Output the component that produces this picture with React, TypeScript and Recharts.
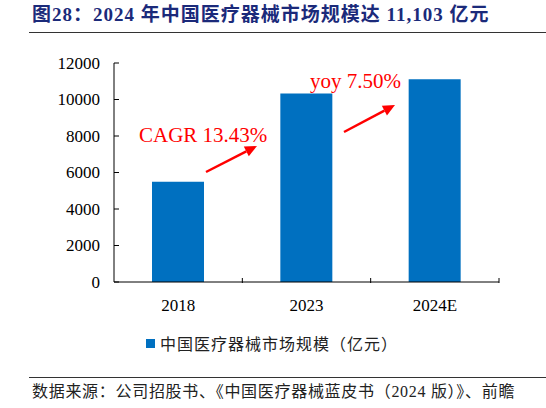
import { BarChart, Bar, XAxis, YAxis, Legend } from 'recharts';

const years = ['2018', '2023', '2024E'];
const marketSize = [5500, 10328, 11103];
const yTicks = [0, 2000, 4000, 6000, 8000, 10000, 12000];

const data = years.map((year, i) => ({ year, value: marketSize[i] }));

const W = 546;
const H = 408;
const AXIS_X = 114;
const AXIS_Y = 283;
const PLOT_RIGHT = 499;
const BAND = (PLOT_RIGHT - AXIS_X) / years.length;
const SERIF = '"Liberation Serif", "Times New Roman", serif';
const CJK = '"Liberation Serif", "Noto Sans CJK SC", serif';
const BLUE = '#0070C0';

const YTick = (props: any) => {
  const { y, payload } = props;
  return (
    <g>
      <line x1={AXIS_X} x2={AXIS_X + 5} y1={y} y2={y} stroke="#000" strokeWidth={1} />
      <text x={AXIS_X - 14} y={y} dy="0.35em" textAnchor="end" fontSize={17} fontFamily={SERIF} fill="#000">
        {payload.value}
      </text>
    </g>
  );
};

const XTick = (props: any) => {
  const { x, payload } = props;
  const bx = x + BAND / 2;
  return (
    <g>
      <line x1={bx} x2={bx} y1={AXIS_Y} y2={AXIS_Y - 5} stroke="#000" strokeWidth={1} />
      <text x={x} y={AXIS_Y + 28} textAnchor="middle" fontSize={17} fontFamily={SERIF} fill="#000">
        {payload.value}
      </text>
    </g>
  );
};

const Arrow = ({ x1, y1, x2, y2 }: { x1: number; y1: number; x2: number; y2: number }) => {
  const dx = x2 - x1;
  const dy = y2 - y1;
  const len = Math.sqrt(dx * dx + dy * dy);
  const ux = dx / len;
  const uy = dy / len;
  const hl = 12;
  const hw = 5.5;
  const bx = x2 - ux * hl;
  const by = y2 - uy * hl;
  const pts = `${x2},${y2} ${bx - uy * hw},${by + ux * hw} ${bx + uy * hw},${by - ux * hw}`;
  return (
    <g>
      <line x1={x1} y1={y1} x2={bx} y2={by} stroke="#FF0000" strokeWidth={2.5} />
      <polygon points={pts} fill="#FF0000" />
    </g>
  );
};

const renderLegend = (props: any) => {
  const items = props.payload || [];
  return (
    <div style={{ display: 'flex', alignItems: 'center' }}>
      {items.map((it: any, i: number) => (
        <div key={i} style={{ display: 'flex', alignItems: 'center' }}>
          <span style={{ width: 9, height: 9, background: BLUE, display: 'inline-block', marginRight: 5 }} />
          <span
            style={{
              fontSize: 16,
              fontFamily: '"Noto Sans CJK SC", sans-serif',
              color: '#222',
              lineHeight: '18px',
              letterSpacing: 1,
            }}
          >
            {it.value}
          </span>
        </div>
      ))}
    </div>
  );
};

const App = () => {
  return (
    <div style={{ position: 'absolute', left: 0, top: 0, width: W, height: H, background: '#fff', overflow: 'hidden' }}>
      <div
        style={{
          position: 'absolute',
          left: 32,
          top: 3,
          fontSize: 19,
          fontWeight: 'bold',
          color: '#1B2A7A',
          fontFamily: CJK,
          whiteSpace: 'nowrap',
          lineHeight: '24px',
          letterSpacing: 1,
        }}
      >
        图28：2024 年中国医疗器械市场规模达 11,103 亿元
      </div>
      <div style={{ position: 'absolute', left: 29, top: 32, width: W - 29, height: 0, borderTop: '1.5px solid #333' }} />

      <div style={{ position: 'absolute', left: 0, top: 0 }}>
        <BarChart width={W} height={H} data={data} margin={{ top: 63, right: W - PLOT_RIGHT, bottom: 78, left: 54 }}>
          <XAxis
            dataKey="year"
            height={30}
            axisLine={{ stroke: '#000', strokeWidth: 1 }}
            tickLine={false}
            tick={<XTick />}
            interval={0}
          />
          <YAxis
            width={60}
            domain={[0, 12000]}
            ticks={yTicks}
            axisLine={{ stroke: '#000', strokeWidth: 1 }}
            tickLine={false}
            tick={<YTick />}
            interval={0}
          />
          <Legend content={renderLegend} wrapperStyle={{ left: 146, top: 334, width: 'auto' }} />
          <Bar dataKey="value" name="中国医疗器械市场规模（亿元）" fill={BLUE} barSize={52} isAnimationActive={false} />
        </BarChart>
      </div>

      <svg width={W} height={H} style={{ position: 'absolute', left: 0, top: 0, pointerEvents: 'none' }}>
        <text x={139} y={142} fontSize={21} fontFamily={SERIF} fill="#FF0000">CAGR 13.43%</text>
        <Arrow x1={206} y1={172} x2={257} y2={146} />
        <text x={310} y={88} fontSize={21} fontFamily={SERIF} fill="#FF0000">yoy 7.50%</text>
        <Arrow x1={344} y1={132} x2={395} y2={105} />
      </svg>

      <div style={{ position: 'absolute', left: 29, top: 377, width: W - 29, height: 0, borderTop: '1.5px solid #333' }} />
      <div
        style={{
          position: 'absolute',
          left: 32,
          top: 382,
          fontSize: 16,
          color: '#222',
          fontFamily: CJK,
          whiteSpace: 'nowrap',
          lineHeight: '20px',
          letterSpacing: 0.7,
        }}
      >
        数据来源：公司招股书、《中国医疗器械蓝皮书（2024 版）》、前瞻
      </div>
    </div>
  );
};

export default App;
